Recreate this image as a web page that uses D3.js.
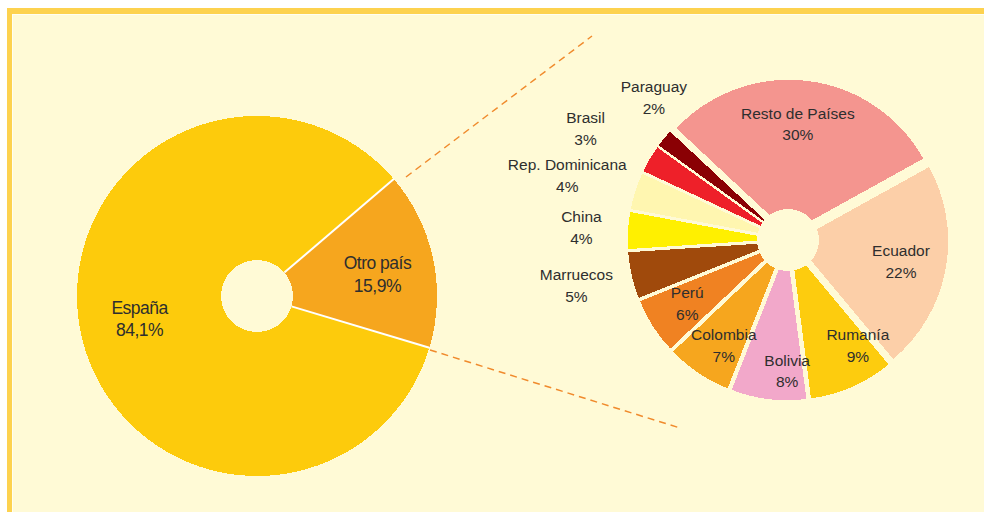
<!DOCTYPE html>
<html>
<head>
<meta charset="utf-8">
<script src="https://cdn.jsdelivr.net/npm/d3@7"></script>
<style>
  html, body { margin: 0; padding: 0; background: #fff; }
  text { font-family: "Liberation Sans", Arial, sans-serif; fill: #2e2e2e; }
</style>
</head>
<body>
<div id="chart"></div>
<script>
// main split: born in Spain vs. abroad
const mainCats = ["España", "Otro país"];
const mainVals = [84.1, 15.9];
const mainText = ["84,1%", "15,9%"];
const mainColors = ["#fdcb0c", "#f6a61e"];

// breakdown of "Otro país"
const countries = ["Resto de Países", "Ecuador", "Rumanía", "Bolivia", "Colombia", "Perú",
  "Marruecos", "China", "Rep. Dominicana", "Brasil", "Paraguay"];
const countryVals = [30, 22, 9, 8, 7, 6, 5, 4, 4, 3, 2];
const countryColors = ["#f4958f", "#fccfa8", "#fdcc0e", "#f2a8ca", "#f6a61e", "#f08222",
  "#a04a0c", "#fff000", "#fff6b0", "#ee2029", "#8a0004"];
const outsideLabels = ["Marruecos", "China", "Rep. Dominicana", "Brasil", "Paraguay"];

const width = 984, height = 512;
const bg = "#fffad6";
const deg = Math.PI / 180;

// small hand placements, like the labels moved in the original
const nudge = {
  "España": [0, -2], "Otro país": [3, 3],
  "Resto de Países": [-5, 5], "Ecuador": [-7, -1], "Rumanía": [21, -6], "Bolivia": [14, 10],
  "Colombia": [4, 4], "Perú": [2, -2], "Marruecos": [-2, -2], "China": [8, 0],
  "Rep. Dominicana": [-16, 1], "Brasil": [-17, -3], "Paraguay": [32, -6]
};

const svg = d3.select("#chart").append("svg")
  .attr("width", width)
  .attr("height", height);

// frame
svg.append("rect").attr("x", 7).attr("y", 8).attr("width", width).attr("height", height).attr("fill", "#fdd24f");
svg.append("rect").attr("x", 12).attr("y", 14).attr("width", width).attr("height", height).attr("fill", "#fffef2");
svg.append("rect").attr("x", 13).attr("y", 15).attr("width", width).attr("height", height).attr("fill", bg);

// dashed connectors
const connectors = [[[406, 177], [592, 36]], [[430, 350], [680, 428]]];
svg.selectAll(".conn").data(connectors).join("path")
  .attr("class", "conn")
  .attr("d", d => d3.line()(d))
  .attr("fill", "none")
  .attr("stroke", "#f08a2c")
  .attr("stroke-width", 1.5)
  .attr("stroke-dasharray", "7,5");

// ---- left pie
const mainData = mainCats.map((c, i) => ({ cat: c, v: mainVals[i], txt: mainText[i], color: mainColors[i] }));
const r1 = 180, hole1 = 36;
const pie1 = d3.pie().sort(null).value(d => d.v)
  .startAngle(106.7 * deg).endAngle(106.7 * deg + 2 * Math.PI);
const arc1 = d3.arc().innerRadius(0).outerRadius(r1);
const labelArc1 = d3.arc().innerRadius(120).outerRadius(120);
const arcs1 = pie1(mainData);

const g1 = svg.append("g").attr("transform", "translate(257,296)");
g1.selectAll("path").data(arcs1).join("path")
  .attr("d", arc1)
  .attr("fill", d => d.data.color)
  .attr("shape-rendering", "crispEdges");
g1.selectAll("line").data(arcs1).join("line")
  .attr("x1", d => d3.pointRadial(d.startAngle, hole1)[0])
  .attr("y1", d => d3.pointRadial(d.startAngle, hole1)[1])
  .attr("x2", d => d3.pointRadial(d.startAngle, r1)[0])
  .attr("y2", d => d3.pointRadial(d.startAngle, r1)[1])
  .attr("stroke", "#fff")
  .attr("stroke-width", 2);
g1.append("circle").attr("r", hole1).attr("fill", bg).attr("shape-rendering", "crispEdges");

const t1 = g1.selectAll("text").data(arcs1).join("text")
  .attr("text-anchor", "middle")
  .attr("font-size", "17.5px")
  .attr("letter-spacing", "-0.5px")
  .attr("transform", d => {
    const [x, y] = labelArc1.centroid(d);
    const n = nudge[d.data.cat] || [0, 0];
    return `translate(${x + n[0]},${y + n[1]})`;
  });
t1.append("tspan").attr("x", 0).attr("y", -5).text(d => d.data.cat);
t1.append("tspan").attr("x", 0).attr("y", 17.5).text(d => d.data.txt);

// ---- right pie (exploded)
const countryData = countries.map((c, i) => ({ cat: c, v: countryVals[i], color: countryColors[i] }));
const r2 = 155, hole2 = 31, explode = 6;
const pie2 = d3.pie().sort(null).value(d => d.v)
  .startAngle(-47 * deg).endAngle(-47 * deg + 2 * Math.PI);
const arc2 = d3.arc().innerRadius(0).outerRadius(r2);
const inArc = d3.arc().innerRadius(122).outerRadius(122);
const outArc = d3.arc().innerRadius(215).outerRadius(215);
const arcs2 = pie2(countryData);
const mid = d => (d.startAngle + d.endAngle) / 2;

const g2 = svg.append("g").attr("transform", "translate(788,240)");
g2.selectAll("path").data(arcs2).join("path")
  .attr("d", arc2)
  .attr("transform", d => `translate(${d3.pointRadial(mid(d), explode)})`)
  .attr("fill", d => d.data.color)
  .attr("stroke", bg)
  .attr("stroke-width", 1.5)
  .attr("shape-rendering", "crispEdges");
g2.append("circle").attr("r", hole2).attr("fill", bg).attr("shape-rendering", "crispEdges");

const t2 = g2.selectAll("text").data(arcs2).join("text")
  .attr("text-anchor", "middle")
  .attr("font-size", "15.5px")
  .attr("transform", d => {
    const a = outsideLabels.includes(d.data.cat) ? outArc : inArc;
    const [x, y] = a.centroid(d);
    const n = nudge[d.data.cat] || [0, 0];
    return `translate(${x + n[0]},${y + n[1]})`;
  });
t2.append("tspan").attr("x", 0).attr("y", -5.3).text(d => d.data.cat);
t2.append("tspan").attr("x", 0).attr("y", 16.4).text(d => d.data.v + "%");
</script>
</body>
</html>
